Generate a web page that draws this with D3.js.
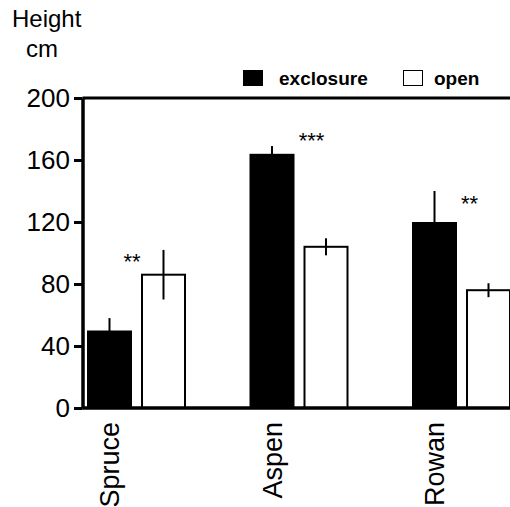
<!DOCTYPE html>
<html>
<head>
<meta charset="utf-8">
<script src="https://cdn.jsdelivr.net/npm/d3@7"></script>
<style>
  html, body { margin: 0; padding: 0; background: #fff; }
  svg { display: block; font-family: "Liberation Sans", Arial, Helvetica, sans-serif; }
</style>
</head>
<body>
<svg id="chart" width="510" height="507"></svg>
<script>
// ---- data ----
const categories = ["Spruce", "Aspen", "Rowan"];
const seriesNames = ["exclosure", "open"];
const exclosureMeans = [50, 164, 120];
const exclosureErrors = [8, 5, 20];
const openMeans = [86, 104, 76];
const openErrors = [16, 5.5, 4.5];
const sigLabels = ["**", "***", "**"];
const sigLevels = [90, 168, 127];
const yTicks = [0, 40, 80, 120, 160, 200];
const yTitle = ["Height", "cm"];

// ---- layout ----
const svg = d3.select("#chart");
const yTop = 98, yBottom = 408, xAxis = 82.5;

const y = d3.scaleLinear().domain([0, 200]).range([yBottom, yTop]);
const x = d3.scaleBand().domain(categories).range([87, 511]).paddingInner(0.3908).paddingOuter(0);
const xs = d3.scaleBand().domain(seriesNames).range([0, x.bandwidth()]).paddingInner(0.1667).paddingOuter(0);

const rows = categories.map((c, i) => ({
  cat: c,
  bars: [
    { s: "exclosure", v: exclosureMeans[i], e: exclosureErrors[i] },
    { s: "open", v: openMeans[i], e: openErrors[i] }
  ]
}));

const g = svg.append("g");
const grp = g.selectAll("g.grp").data(rows).join("g")
  .attr("transform", d => `translate(${x(d.cat)},0)`);

// error bars (drawn first, so the black bar hides the lower part)
grp.selectAll("line.err").data(d => d.bars).join("line")
  .attr("x1", d => xs(d.s) + xs.bandwidth() / 2)
  .attr("x2", d => xs(d.s) + xs.bandwidth() / 2)
  .attr("y1", d => y(d.v + d.e))
  .attr("y2", d => y(d.v - d.e))
  .attr("stroke", "#000").attr("stroke-width", 2);

grp.selectAll("rect.bar").data(d => d.bars).join("rect")
  .attr("x", d => xs(d.s) + (d.s === "open" ? 1 : 0))
  .attr("width", d => xs.bandwidth() - (d.s === "open" ? 2 : 0))
  .attr("y", d => y(d.v))
  .attr("height", d => yBottom - y(d.v))
  .attr("fill", d => d.s === "open" ? "none" : "#000")
  .attr("stroke", d => d.s === "open" ? "#000" : "none")
  .attr("stroke-width", 2);

// significance stars
const starNudge = [-9, 8, 3.5];
svg.selectAll("text.sig").data(categories).join("text")
  .attr("x", (c, i) => x(c) + xs("open") + starNudge[i])
  .attr("y", (c, i) => y(sigLevels[i]))
  .attr("text-anchor", "middle")
  .attr("font-size", 22)
  .text((c, i) => sigLabels[i]);

// y axis
const yAxis = d3.axisLeft(y).tickValues(yTicks).tickSize(8.5).tickSizeOuter(0).tickPadding(4);
const ya = svg.append("g").attr("transform", `translate(${xAxis},0)`).call(yAxis);
ya.select(".domain").attr("stroke-width", 3.5);
ya.selectAll(".tick line").attr("stroke-width", 3);
ya.selectAll(".tick text").attr("font-size", 26).attr("fill", "#000")
  .attr("font-family", "'Liberation Sans', Arial, sans-serif").attr("dy", "0.34em");

// frame lines (bottom axis and top line)
svg.append("line").attr("x1", xAxis).attr("x2", 520).attr("y1", y(0)).attr("y2", y(0))
  .attr("stroke", "#000").attr("stroke-width", 3.5);
svg.append("line").attr("x1", xAxis).attr("x2", 520).attr("y1", y(200)).attr("y2", y(200))
  .attr("stroke", "#000").attr("stroke-width", 3);

// category labels
svg.selectAll("text.cat").data(categories).join("text")
  .attr("transform", c => `translate(${x(c) + xs("exclosure") + xs.bandwidth() / 2 + 9.5},422) rotate(-90)`)
  .attr("text-anchor", "end")
  .attr("font-size", 27)
  .text(c => c);

// y title
svg.append("text").attr("x", 12).attr("y", 27).attr("font-size", 24).text(yTitle[0]);
svg.append("text").attr("x", 26).attr("y", 57).attr("font-size", 24).text(yTitle[1]);

// legend
const legendX = [243, 403];
const lg = svg.selectAll("g.leg").data(seriesNames).join("g")
  .attr("transform", (s, i) => `translate(${legendX[i]},70)`);
lg.append("rect")
  .attr("x", 0.5).attr("y", 0.5).attr("width", 19).attr("height", 15)
  .attr("fill", s => s === "open" ? "#fff" : "#000")
  .attr("stroke", "#000").attr("stroke-width", 1);
lg.append("text")
  .attr("x", (s, i) => i === 0 ? 36 : 31)
  .attr("y", 15)
  .attr("font-size", 19).attr("font-weight", "bold")
  .text(s => s);
</script>
</body>
</html>
